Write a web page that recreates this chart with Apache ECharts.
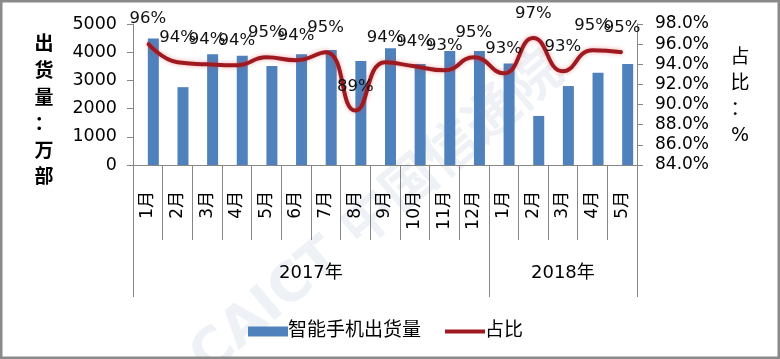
<!DOCTYPE html>
<html>
<head>
<meta charset="utf-8">
<script src="https://cdn.jsdelivr.net/npm/echarts@6/dist/echarts.min.js"></script>
<style>
html,body{margin:0;padding:0;background:#fff;}
#chart{width:780px;height:359px;}
</style>
</head>
<body>
<div id="chart"></div>
<script>
// ---- data ----
var months = ['1月','2月','3月','4月','5月','6月','7月','8月','9月','10月','11月','12月','1月','2月','3月','4月','5月'];
var years = ['2017年','2018年'];
var yearCounts = [12, 5];
var shipments = [4490, 2760, 3930, 3870, 3510, 3930, 4080, 3690, 4140, 3580, 4040, 4040, 3600, 1740, 2800, 3270, 3580];
var share = [96.1, 94.2, 94.0, 93.9, 94.7, 94.4, 95.2, 89.4, 94.2, 93.8, 93.4, 94.7, 93.1, 96.6, 93.3, 95.4, 95.2];
var leftTicks = {min: 0, max: 5000, interval: 1000};
var rightTicks = {min: 84, max: 98, interval: 2};

// ---- derived ----
var bounds = [0], centers = [];
yearCounts.forEach(function (c, i) {
  var s = bounds[bounds.length - 1];
  bounds.push(s + c);
  centers.push(s + c / 2);
});
var emptySeries = months.map(function () { return null; });

var FONT = "'DejaVu Sans', 'Noto Sans CJK SC', sans-serif";
var AX = '#868686';
var RED = '#9E1A20';

var chart = echarts.init(document.getElementById('chart'), null, {renderer: 'canvas'});
chart.setOption({
  animation: false,
  backgroundColor: '#fff',
  textStyle: {fontFamily: FONT},
  grid: {left: 133, right: 143, top: 24, bottom: 194, containLabel: false},
  legend: {
    data: [
      {name: '智能手机出货量', icon: 'rect'},
      {name: '占比', icon: 'path://M0,0H40V4H0Z'}
    ],
    left: 243,
    top: 317,
    itemWidth: 40,
    itemHeight: 10,
    itemGap: 24,
    symbolKeepAspect: true,
    textStyle: {fontSize: 19, color: '#000', fontFamily: FONT, padding: [0, 0, 0, -5]}
  },
  xAxis: [
    {
      type: 'category',
      data: months,
      boundaryGap: true,
      axisLine: {show: true, lineStyle: {color: AX, width: 1}},
      axisTick: {show: true, length: 75, lineStyle: {color: AX}},
      axisLabel: {rotate: 90, margin: 26, fontSize: 17, color: '#000', fontFamily: FONT, interval: 0}
    },
    {
      type: 'value',
      position: 'bottom',
      min: 0,
      max: months.length,
      axisLine: {show: false},
      splitLine: {show: false},
      axisTick: {show: true, length: 132, customValues: bounds, lineStyle: {color: AX}},
      axisLabel: {
        show: true,
        customValues: centers,
        margin: 99,
        fontSize: 18,
        color: '#000',
        fontFamily: FONT,
        formatter: function (v) {
          for (var i = 0; i < centers.length; i++) {
            if (Math.abs(centers[i] - v) < 1e-6) return years[i];
          }
          return '';
        }
      }
    }
  ],
  yAxis: [
    {
      type: 'value',
      position: 'left',
      min: leftTicks.min, max: leftTicks.max, interval: leftTicks.interval,
      axisLine: {show: true, lineStyle: {color: AX}},
      axisTick: {show: true, length: 6, lineStyle: {color: AX}},
      splitLine: {show: false},
      axisLabel: {fontSize: 17.5, color: '#000', margin: 16, fontFamily: FONT,
        formatter: function (v) { return String(v); }}
    },
    {
      type: 'value',
      position: 'right',
      min: rightTicks.min, max: rightTicks.max, interval: rightTicks.interval,
      axisLine: {show: true, lineStyle: {color: AX}},
      axisTick: {show: true, length: 6, lineStyle: {color: AX}},
      splitLine: {show: false},
      axisLabel: {
        fontSize: 17, color: '#000', margin: 18, fontFamily: FONT,
        formatter: function (v) { return v.toFixed(1) + '%'; }
      }
    }
  ],
  series: [
    {
      name: '_spacer',
      type: 'bar',
      data: emptySeries,
      barWidth: 11,
      barGap: '0%',
      itemStyle: {color: 'rgba(0,0,0,0)'},
      silent: true
    },
    {
      name: '智能手机出货量',
      type: 'bar',
      data: shipments,
      barWidth: 11,
      barGap: '0%',
      itemStyle: {color: '#4F81BD'}
    },
    {
      name: '占比',
      type: 'line',
      yAxisIndex: 1,
      data: share,
      smooth: 0.5,
      symbol: 'circle',
      symbolSize: 2,
      showSymbol: true,
      lineStyle: {color: RED, width: 4, shadowColor: 'rgba(220,60,60,0.45)', shadowBlur: 4},
      itemStyle: {color: RED},
      label: {
        show: true,
        position: 'top',
        distance: 15,
        fontSize: 16.5,
        color: '#111',
        fontFamily: FONT,
        formatter: function (p) { return Math.round(p.value) + '%'; }
      },
      z: 5
    }
  ],
  graphic: [
    {
      type: 'rect',
      shape: {x: 1.25, y: 1.25, width: 777.5, height: 356.5},
      style: {fill: 'none', stroke: '#8a8a8a', lineWidth: 2.5},
      silent: true
    },
    {
      type: 'text',
      x: 44, y: 112,
      style: {
        text: '出\n货\n量\n：\n万\n部',
        font: 'bold 19px ' + FONT,
        fill: '#000',
        align: 'center',
        verticalAlign: 'middle',
        lineHeight: 26.6
      }
    },
    {
      type: 'text',
      x: 740, y: 97,
      style: {
        text: '占\n比\n：\n%',
        font: '19px ' + FONT,
        fill: '#000',
        align: 'center',
        verticalAlign: 'middle',
        lineHeight: 26
      }
    },
    {
      type: 'text',
      x: 378, y: 215,
      rotation: Math.PI * 40 / 180,
      z: -1,
      style: {
        text: 'CAICT 中国信通院',
        font: 'bold 54px ' + FONT,
        fill: 'rgba(150,165,190,0.16)',
        align: 'center',
        verticalAlign: 'middle'
      },
      silent: true
    }
  ]
});
</script>
</body>
</html>
